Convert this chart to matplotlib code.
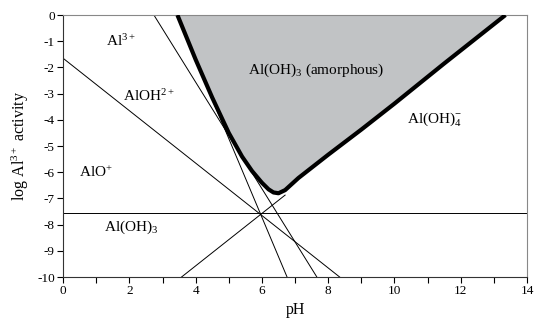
import matplotlib
matplotlib.use('Agg')
import matplotlib.pyplot as plt

plt.rcParams['font.family'] = ['Liberation Serif', 'DejaVu Serif']
plt.rcParams['mathtext.fontset'] = 'custom'
plt.rcParams['mathtext.rm'] = 'Liberation Serif'
plt.rcParams['mathtext.it'] = 'Liberation Serif:italic'
plt.rcParams['axes.unicode_minus'] = False

# boundary lines (pH, log activity)
line_alo_x = [0.0, 8.35]          # AlOH2+ / AlO+ boundary
line_alo_y = [-1.65, -10.0]
line_aloh_x = [2.74, 7.66]        # slope -2 boundary
line_aloh_y = [0.0, -10.0]
line_al_x = [3.43, 6.76]          # slope -3 boundary
line_al_y = [0.0, -10.0]
line_oh4_x = [3.57, 6.70]         # Al(OH)4- boundary
line_oh4_y = [-10.0, -6.87]
neutral_level = -7.55             # Al(OH)3 aqueous

# solubility curve of amorphous Al(OH)3
curve_ph = [3.45, 4.0, 4.5, 5.0, 5.4, 5.7, 6.0, 6.2, 6.35, 6.5, 6.7, 6.9,
            7.1, 8.0, 9.0, 10.0, 11.5, 13.35]
curve_log = [0.0, -1.7, -3.15, -4.5, -5.4, -5.95, -6.4, -6.65, -6.77, -6.8,
             -6.68, -6.45, -6.22, -5.33, -4.37, -3.38, -1.85, 0.0]

labels = ['Al$^{3+}$', 'AlOH$^{2+}$', 'AlO$^{+}$', 'Al(OH)$_3$',
          'Al(OH)$_3$ (amorphous)', 'Al(OH)$_4^{-}$']
label_x = [1.75, 2.6, 1.0, 2.05, 7.65, 11.2]
label_y = [-1.0, -3.1, -6.0, -8.1, -2.1, -3.95]

fig = plt.figure(figsize=(5.35, 3.2), dpi=100)
ax = fig.add_axes([0.118, 0.134, 0.867, 0.819])

for xs, ys in [(line_alo_x, line_alo_y), (line_aloh_x, line_aloh_y),
               (line_al_x, line_al_y), (line_oh4_x, line_oh4_y)]:
    ax.plot(xs, ys, color='black', lw=0.7, zorder=1)
ax.axhline(neutral_level, color='black', lw=0.7, zorder=1)

ax.fill_between(curve_ph, curve_log, 0, color='#c1c3c5', lw=0, zorder=2)
ax.plot(curve_ph, curve_log, color='black', lw=3, solid_capstyle='butt',
        solid_joinstyle='round', zorder=3)

for t, x, y in zip(labels, label_x, label_y):
    ax.text(x, y, t, fontsize=11, ha='center', va='center', zorder=4)

ax.set_xlim(0, 14)
ax.set_ylim(-10, 0)
ax.set_xticks(range(0, 15, 2))
ax.set_xticks(range(1, 14, 2), minor=True)
ax.set_yticks(range(-10, 1))
ax.tick_params(direction='out', length=4, width=0.8, labelsize=9.5, pad=2)
ax.tick_params(which='minor', direction='out', length=4, width=0.8)
for side in ['top', 'right']:
    ax.spines[side].set_color('#888888')
for side in ['bottom', 'left']:
    ax.spines[side].set_color('#333333')
for s in ax.spines.values():
    s.set_linewidth(0.8)

ax.set_xlabel('pH', fontsize=11.5, labelpad=3)
ax.set_ylabel('log Al$^{3+}$ activity', fontsize=11.5, labelpad=4)

fig.savefig('out.png', dpi=100)
plt.close(fig)
